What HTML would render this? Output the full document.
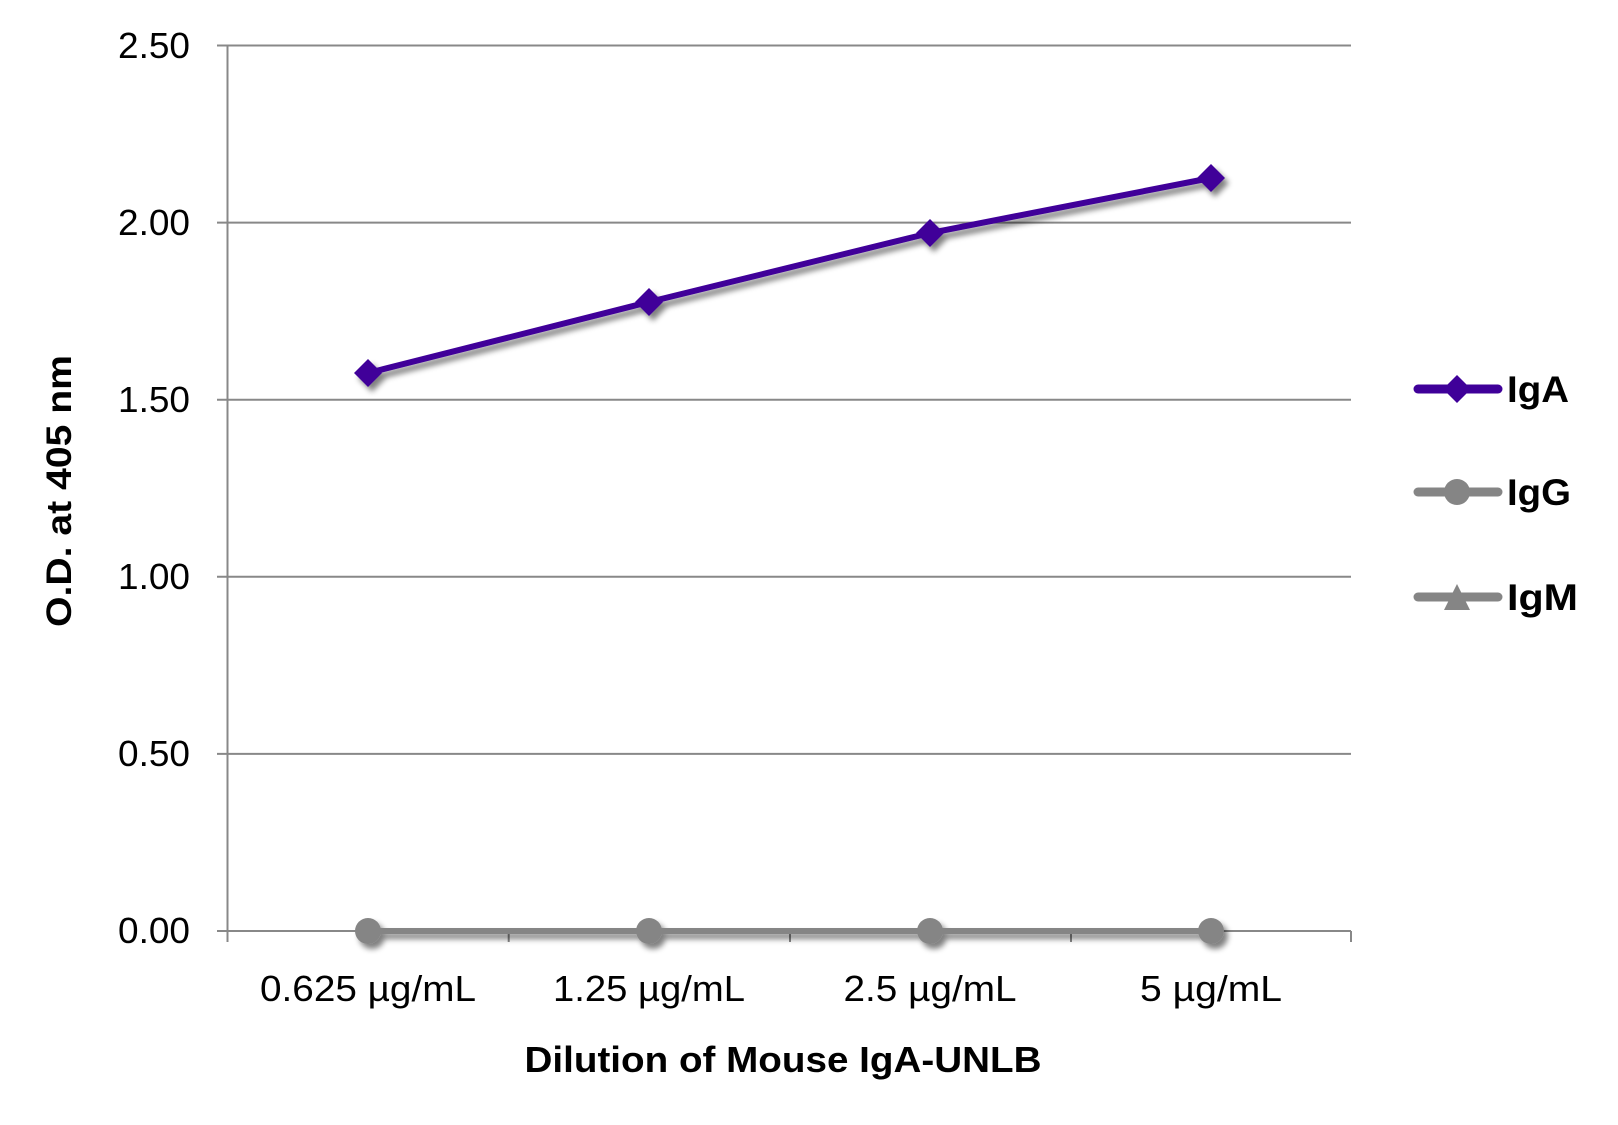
<!DOCTYPE html>
<html><head><style>body{margin:0;background:#fff}</style></head><body>
<svg width="1618" height="1120" xmlns="http://www.w3.org/2000/svg" font-family="Liberation Sans, sans-serif">
<defs><filter id="sh" x="-50%" y="-50%" width="200%" height="200%"><feGaussianBlur in="SourceAlpha" stdDeviation="3"/><feOffset dx="4" dy="5"/><feComponentTransfer><feFuncA type="linear" slope="0.5"/></feComponentTransfer><feMerge><feMergeNode/><feMergeNode in="SourceGraphic"/></feMerge></filter></defs>
<g stroke="#888" stroke-width="2">
<line x1="217" y1="45.5" x2="1351" y2="45.5"/>
<line x1="217" y1="222.6" x2="1351" y2="222.6"/>
<line x1="217" y1="399.7" x2="1351" y2="399.7"/>
<line x1="217" y1="576.8" x2="1351" y2="576.8"/>
<line x1="217" y1="753.9" x2="1351" y2="753.9"/>
<line x1="217" y1="931" x2="1351" y2="931"/>
<line x1="227.5" y1="45.5" x2="227.5" y2="942"/>
<line x1="508.7" y1="931" x2="508.7" y2="942"/>
<line x1="790" y1="931" x2="790" y2="942"/>
<line x1="1071" y1="931" x2="1071" y2="942"/>
<line x1="1351" y1="931" x2="1351" y2="942"/>
</g>
<g font-size="36" fill="#000" text-anchor="end" lengthAdjust="spacingAndGlyphs">
<text x="190" y="58" textLength="72" lengthAdjust="spacingAndGlyphs">2.50</text><text x="190" y="235" textLength="72" lengthAdjust="spacingAndGlyphs">2.00</text><text x="190" y="412" textLength="72" lengthAdjust="spacingAndGlyphs">1.50</text>
<text x="190" y="589" textLength="72" lengthAdjust="spacingAndGlyphs">1.00</text><text x="190" y="766" textLength="72" lengthAdjust="spacingAndGlyphs">0.50</text><text x="190" y="943" textLength="72" lengthAdjust="spacingAndGlyphs">0.00</text>
</g>
<g font-size="36" fill="#000" text-anchor="middle">
<text x="368" y="1001" textLength="216" lengthAdjust="spacingAndGlyphs">0.625 µg/mL</text><text x="649" y="1001" textLength="192" lengthAdjust="spacingAndGlyphs">1.25 µg/mL</text>
<text x="930" y="1001" textLength="173" lengthAdjust="spacingAndGlyphs">2.5 µg/mL</text><text x="1211" y="1001" textLength="142" lengthAdjust="spacingAndGlyphs">5 µg/mL</text>
</g>
<text x="783" y="1072" font-size="36" font-weight="bold" text-anchor="middle" textLength="517" lengthAdjust="spacingAndGlyphs">Dilution of Mouse IgA-UNLB</text>
<text transform="translate(71,491) rotate(-90)" font-size="35" font-weight="bold" text-anchor="middle" textLength="272" lengthAdjust="spacingAndGlyphs">O.D. at 405 nm</text>
<g filter="url(#sh)">
<polyline points="368,931 649,931 930,931 1211,931" fill="none" stroke="#858585" stroke-width="6"/>
<g fill="#858585"><circle cx="368" cy="931" r="13"/><circle cx="649" cy="931" r="13"/><circle cx="930" cy="931" r="13"/><circle cx="1211" cy="931" r="13"/></g>
<polyline points="368,373 649,302 930,233 1211,178" fill="none" stroke="#3f0099" stroke-width="6"/>
<g fill="#3f0099">
<polygon points="368,359 382,373 368,387 354,373"/><polygon points="649,288 663,302 649,316 635,302"/>
<polygon points="930,219 944,233 930,247 916,233"/><polygon points="1211,164 1225,178 1211,192 1197,178"/>
</g>
</g>
<g stroke-width="9" stroke-linecap="round">
<line x1="1418" y1="389" x2="1498" y2="389" stroke="#3f0099"/>
<line x1="1418" y1="492" x2="1498" y2="492" stroke="#858585"/>
<line x1="1418" y1="597" x2="1498" y2="597" stroke="#858585"/>
</g>
<polygon points="1457,375 1471,389 1457,403 1443,389" fill="#3f0099"/>
<circle cx="1457" cy="492" r="13" fill="#858585"/>
<polygon points="1457,584 1470,610 1444,610" fill="#858585"/>
<g font-size="37" font-weight="bold">
<text x="1507" y="402" textLength="62" lengthAdjust="spacingAndGlyphs">IgA</text><text x="1507" y="505" textLength="64" lengthAdjust="spacingAndGlyphs">IgG</text><text x="1507" y="610" textLength="71" lengthAdjust="spacingAndGlyphs">IgM</text>
</g>
</svg>
</body></html>
